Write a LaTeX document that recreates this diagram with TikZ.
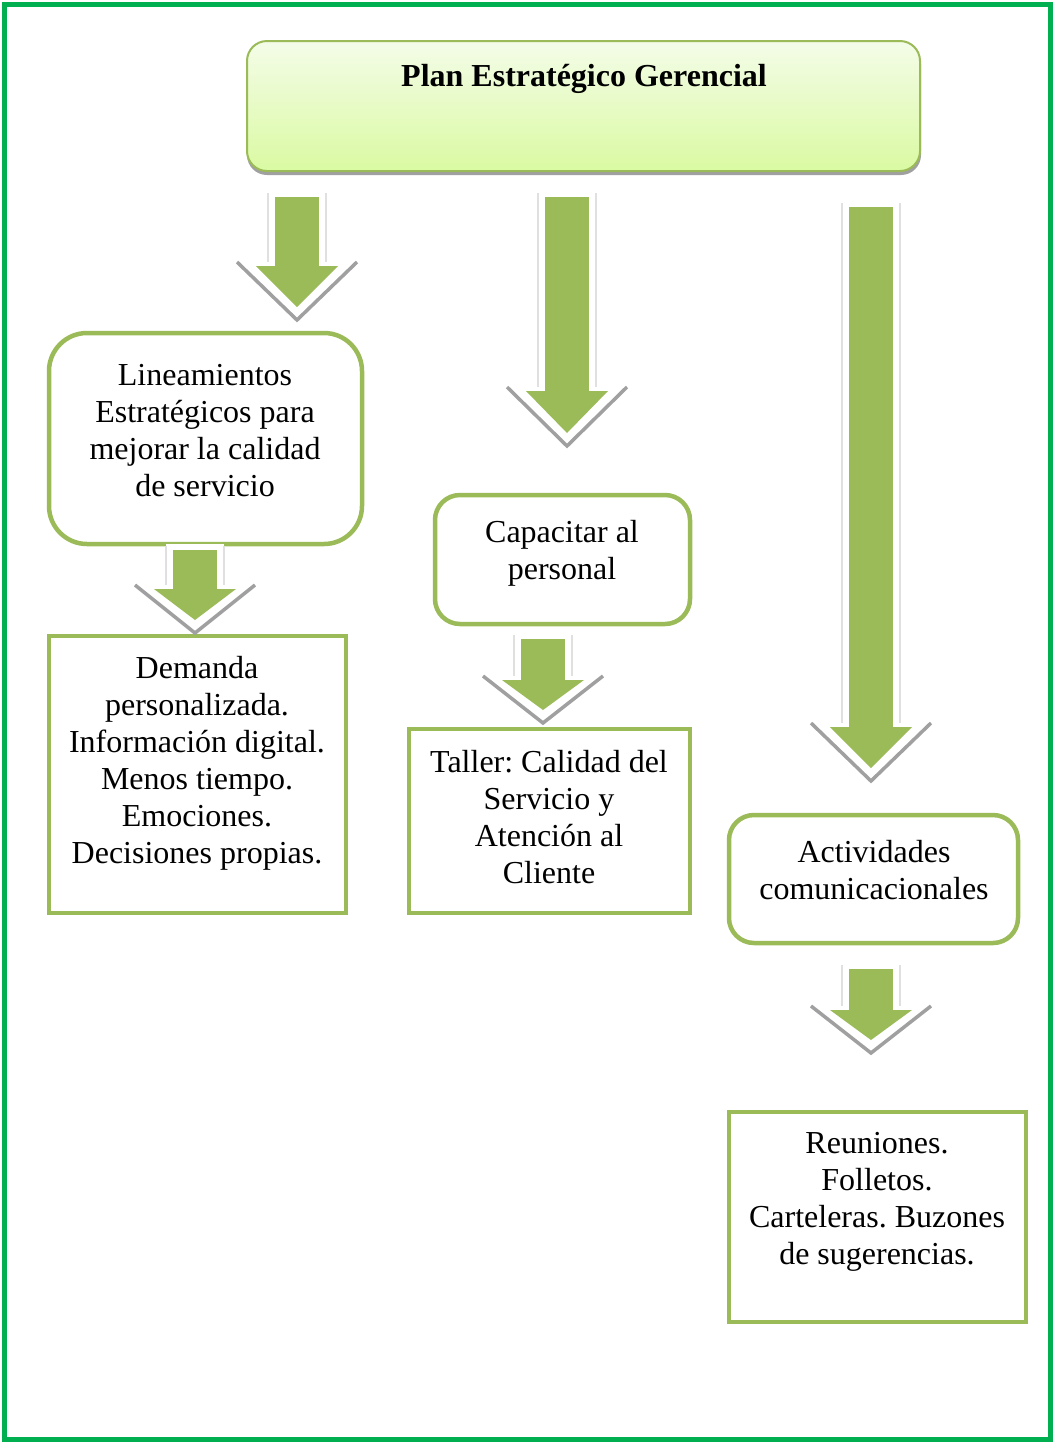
\documentclass[tikz,border=0pt]{standalone}
\usepackage{fontspec}
\setmainfont{Liberation Serif}
\frenchspacing
\definecolor{verde}{HTML}{9BBB59}
\definecolor{marco}{HTML}{00B050}
\definecolor{sombra}{HTML}{A0A0A0}
\definecolor{claro}{HTML}{F4FCE8}
\definecolor{lima}{HTML}{DAFAA2}

% block arrow: centre x, shaft top, head base, tip
\newcommand{\flecha}[4]{%
  \fill[white] (#1-29,#2-6) rectangle (#1+29,#3-4);
  \draw[black!12,line width=1.3pt] (#1-29,#2-4) -- (#1-29,#3-4)
    (#1+29,#2-4) -- (#1+29,#3-4);
  \fill[verde] (#1-22,#2) rectangle (#1+22,#3);
  \fill[verde] (#1-41,#3) -- (#1+41,#3) -- (#1,#4) -- cycle;
  \draw[sombra,line width=3.5pt] (#1-60,#3-4) -- (#1,#4+13) -- (#1+60,#3-4);
}

\begin{document}
\begin{tikzpicture}[x=1pt,y=-1pt,
  caja/.style={draw=verde,line width=4.5pt,inner sep=0pt,outer sep=0pt},
  cajar/.style={caja,rounded corners=#1},
  texto/.style={align=center,font=\fontsize{32}{37}\selectfont}]
  \useasboundingbox (0,0) rectangle (1055,1444);
  \draw[marco,line width=4.5pt] (4.5,4.5) rectangle (1050.5,1439.5);

  % title
  \fill[sombra,rounded corners=20] (247,44) rectangle (921,175);
  \node[draw=verde,line width=2pt,rounded corners=20,top color=claro,bottom color=lima,
    minimum width=673,minimum height=130,inner sep=0pt] (plan) at (583.5,106) {};
  \node[font=\fontsize{32}{37}\selectfont\bfseries] (plant) at (584,79) {Plan Estratégico Gerencial};

  % boxes
  \node[cajar=38,minimum width=313,minimum height=211] (linea) at (205.5,438.5) {};
  \node[texto] (lineat) at (205,431) {Lineamientos\\Estratégicos para\\mejorar la calidad\\de servicio};
  \node[caja,minimum width=297,minimum height=277] (demanda) at (197.5,774.5) {};
  \node[texto] (demandat) at (197,763) {Demanda\\personalizada.\\Información digital.\\Menos tiempo.\\Emociones.\\Decisiones propias.};
  \node[cajar=25,minimum width=255,minimum height=129] (capac) at (562.5,559.5) {};
  \node[texto] (capact) at (562,553) {Capacitar al\\personal};
  \node[caja,minimum width=281,minimum height=184] (taller) at (549.5,821) {};
  \node[texto] (tallert) at (549,817) {Taller: Calidad del\\Servicio y\\Atención al\\Cliente};
  \node[cajar=25,minimum width=289,minimum height=128] (activ) at (873.5,879) {};
  \node[texto] (activt) at (874,870) {Actividades\\comunicacionales};
  \node[caja,minimum width=297,minimum height=210] (reun) at (877.5,1217) {};
  \node[texto] (reunt) at (877,1202) {Reuniones.\\Folletos.\\Carteleras. Buzones\\de sugerencias.};

  % arrows
  \flecha{297}{197}{266}{307}
  \flecha{567}{197}{391}{433}
  \flecha{871}{207}{727}{768}
  \flecha{195}{550}{589}{620}
  \flecha{543}{639}{680}{710}
  \flecha{871}{969}{1010}{1040}
\end{tikzpicture}
\end{document}
